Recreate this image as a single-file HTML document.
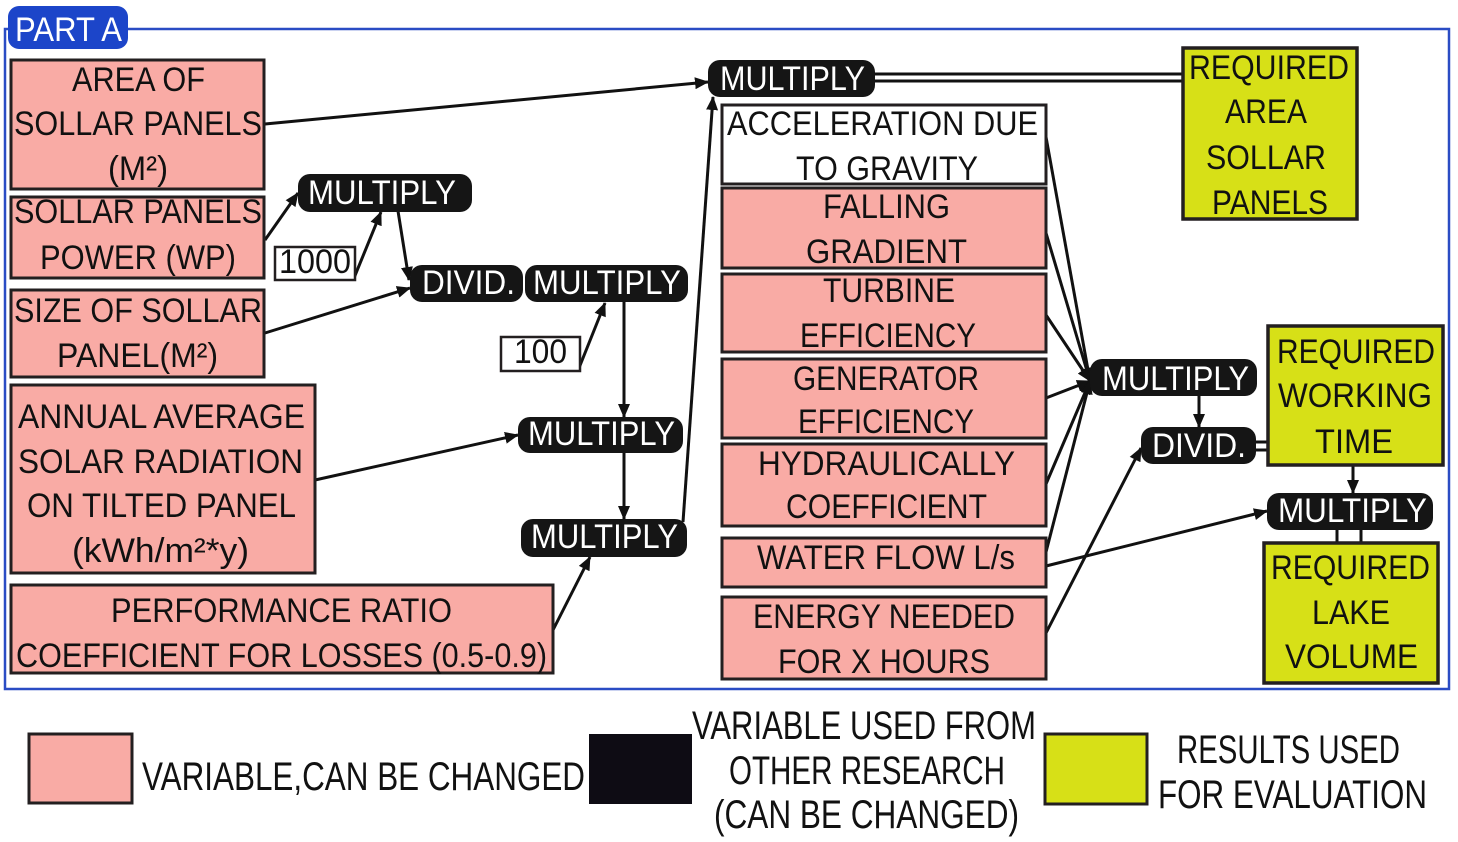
<!DOCTYPE html>
<html>
<head>
<meta charset="utf-8">
<style>
  html,body{margin:0;padding:0;background:#fff;}
  svg{display:block;}
  text{font-family:"Liberation Sans",sans-serif;}
</style>
</head>
<body>
<svg width="1458" height="842" viewBox="0 0 1458 842" xmlns="http://www.w3.org/2000/svg">
  <defs>
    <marker id="ah" markerUnits="userSpaceOnUse" markerWidth="14" markerHeight="12" refX="13" refY="6" orient="auto">
      <path d="M0,0 L14,6 L0,12 z" fill="#111"/>
    </marker>
  </defs>

  <!-- frame -->
  <rect x="5" y="29" width="1444" height="660" fill="none" stroke="#2a4cc4" stroke-width="2.5"/>
  <rect x="8" y="6" width="120" height="43" rx="11" fill="#1c45c9"/>
  <text x="15" y="41" font-size="34" fill="#fff" textLength="107" lengthAdjust="spacingAndGlyphs">PART A</text>

  <!-- connectors -->
  <g stroke="#111" stroke-width="3" fill="none">
    <line x1="265" y1="124" x2="708" y2="82" marker-end="url(#ah)"/>
    <line x1="875" y1="74" x2="1183" y2="74"/>
    <line x1="875" y1="81" x2="1183" y2="81"/>
    <line x1="265" y1="240" x2="298" y2="193" marker-end="url(#ah)"/>
    <line x1="354" y1="278" x2="381" y2="212" marker-end="url(#ah)"/>
    <line x1="398" y1="211" x2="409" y2="280" marker-end="url(#ah)"/>
    <line x1="265" y1="333" x2="410" y2="288" marker-end="url(#ah)"/>
    <line x1="579" y1="368" x2="605" y2="303" marker-end="url(#ah)"/>
    <line x1="624" y1="302" x2="624" y2="417" marker-end="url(#ah)"/>
    <line x1="624" y1="453" x2="624" y2="519" marker-end="url(#ah)"/>
    <line x1="315" y1="480" x2="518" y2="435" marker-end="url(#ah)"/>
    <line x1="553" y1="630" x2="590" y2="557" marker-end="url(#ah)"/>
    <line x1="683" y1="522" x2="713" y2="97" marker-end="url(#ah)"/>

    <line x1="1046" y1="137" x2="1090" y2="381" marker-end="url(#ah)"/>
    <line x1="1046" y1="233" x2="1090" y2="381" marker-end="url(#ah)"/>
    <line x1="1046" y1="315" x2="1090" y2="381" marker-end="url(#ah)"/>
    <line x1="1046" y1="398" x2="1090" y2="381" marker-end="url(#ah)"/>
    <line x1="1046" y1="484" x2="1090" y2="381" marker-end="url(#ah)"/>
    <line x1="1046" y1="552" x2="1090" y2="381" marker-end="url(#ah)"/>

    <line x1="1199" y1="396" x2="1199" y2="427" marker-end="url(#ah)"/>
    <line x1="1046" y1="633" x2="1141" y2="448" marker-end="url(#ah)"/>
    <line x1="1046" y1="566" x2="1267" y2="511" marker-end="url(#ah)"/>
    <line x1="1256" y1="442" x2="1268" y2="442"/>
    <line x1="1256" y1="450" x2="1268" y2="450"/>
    <line x1="1353" y1="466" x2="1353" y2="493" marker-end="url(#ah)"/>
    <line x1="1337" y1="530" x2="1337" y2="543"/>
    <line x1="1361" y1="530" x2="1361" y2="543"/>
  </g>

  <!-- left pink boxes -->
  <g fill="#f9aba5" stroke="#231f20" stroke-width="3">
    <rect x="11" y="60" width="253" height="129"/>
    <rect x="11" y="197" width="253" height="81"/>
    <rect x="11" y="290" width="253" height="87"/>
    <rect x="11" y="385" width="304" height="188"/>
    <rect x="11" y="585" width="542" height="88"/>
  </g>
  <g font-size="34" fill="#111" lengthAdjust="spacingAndGlyphs">
    <text x="72" y="91" textLength="133" lengthAdjust="spacingAndGlyphs">AREA OF</text>
    <text x="14" y="135" textLength="248" lengthAdjust="spacingAndGlyphs">SOLLAR PANELS</text>
    <text x="108" y="180" textLength="60" lengthAdjust="spacingAndGlyphs">(M²)</text>
    <text x="14" y="223" textLength="248" lengthAdjust="spacingAndGlyphs">SOLLAR PANELS</text>
    <text x="40" y="269" textLength="196" lengthAdjust="spacingAndGlyphs">POWER (WP)</text>
    <text x="14" y="322" textLength="248" lengthAdjust="spacingAndGlyphs">SIZE OF SOLLAR</text>
    <text x="57" y="367" textLength="161" lengthAdjust="spacingAndGlyphs">PANEL(M²)</text>
    <text x="18" y="428" textLength="287" lengthAdjust="spacingAndGlyphs">ANNUAL AVERAGE</text>
    <text x="18" y="473" textLength="285" lengthAdjust="spacingAndGlyphs">SOLAR RADIATION</text>
    <text x="27" y="517" textLength="269" lengthAdjust="spacingAndGlyphs">ON TILTED PANEL</text>
    <text x="72" y="562" textLength="177" lengthAdjust="spacingAndGlyphs">(kWh/m²*y)</text>
    <text x="111" y="622" textLength="341" lengthAdjust="spacingAndGlyphs">PERFORMANCE RATIO</text>
    <text x="16" y="667" textLength="531" lengthAdjust="spacingAndGlyphs">COEFFICIENT FOR LOSSES (0.5-0.9)</text>
  </g>

  <!-- constants -->
  <g fill="#fff" stroke="#231f20" stroke-width="2.5">
    <rect x="275" y="247" width="80" height="33"/>
    <rect x="501" y="337" width="79" height="34"/>
  </g>
  <text x="279" y="273" font-size="34" fill="#111" textLength="72" lengthAdjust="spacingAndGlyphs">1000</text>
  <text x="514" y="363" font-size="34" fill="#111" textLength="53" lengthAdjust="spacingAndGlyphs">100</text>

  <!-- black pills -->
  <g fill="#151515">
    <rect x="298" y="174" width="174" height="38" rx="12"/>
    <rect x="410" y="265" width="113" height="37" rx="12"/>
    <rect x="525" y="265" width="163" height="37" rx="12"/>
    <rect x="518" y="417" width="165" height="36" rx="12"/>
    <rect x="521" y="519" width="166" height="38" rx="12"/>
    <rect x="708" y="60" width="167" height="37" rx="12"/>
    <rect x="1090" y="359" width="167" height="37" rx="12"/>
    <rect x="1141" y="427" width="115" height="37" rx="12"/>
    <rect x="1267" y="493" width="166" height="37" rx="12"/>
  </g>
  <g font-size="34" fill="#fff">
    <text x="308" y="204" textLength="148" lengthAdjust="spacingAndGlyphs">MULTIPLY</text>
    <text x="422" y="294" textLength="93" lengthAdjust="spacingAndGlyphs">DIVID.</text>
    <text x="533" y="294" textLength="148" lengthAdjust="spacingAndGlyphs">MULTIPLY</text>
    <text x="528" y="445" textLength="147" lengthAdjust="spacingAndGlyphs">MULTIPLY</text>
    <text x="531" y="548" textLength="147" lengthAdjust="spacingAndGlyphs">MULTIPLY</text>
    <text x="720" y="90" textLength="145" lengthAdjust="spacingAndGlyphs">MULTIPLY</text>
    <text x="1102" y="390" textLength="147" lengthAdjust="spacingAndGlyphs">MULTIPLY</text>
    <text x="1152" y="457" textLength="94" lengthAdjust="spacingAndGlyphs">DIVID.</text>
    <text x="1278" y="522" textLength="149" lengthAdjust="spacingAndGlyphs">MULTIPLY</text>
  </g>

  <!-- middle column boxes -->
  <rect x="722" y="105" width="324" height="79" fill="#fff" stroke="#231f20" stroke-width="3"/>
  <g fill="#f9aba5" stroke="#231f20" stroke-width="3">
    <rect x="722" y="188" width="324" height="80"/>
    <rect x="722" y="274" width="324" height="78"/>
    <rect x="722" y="359" width="324" height="79"/>
    <rect x="722" y="444" width="324" height="82"/>
    <rect x="722" y="538" width="324" height="49"/>
    <rect x="722" y="597" width="324" height="82"/>
  </g>
  <g font-size="34" fill="#111">
    <text x="727" y="135" textLength="311" lengthAdjust="spacingAndGlyphs">ACCELERATION DUE</text>
    <text x="796" y="180" textLength="182" lengthAdjust="spacingAndGlyphs">TO GRAVITY</text>
    <text x="823" y="218" textLength="127" lengthAdjust="spacingAndGlyphs">FALLING</text>
    <text x="806" y="263" textLength="161" lengthAdjust="spacingAndGlyphs">GRADIENT</text>
    <text x="823" y="302" textLength="132" lengthAdjust="spacingAndGlyphs">TURBINE</text>
    <text x="800" y="347" textLength="176" lengthAdjust="spacingAndGlyphs">EFFICIENCY</text>
    <text x="793" y="390" textLength="186" lengthAdjust="spacingAndGlyphs">GENERATOR</text>
    <text x="798" y="433" textLength="176" lengthAdjust="spacingAndGlyphs">EFFICIENCY</text>
    <text x="758" y="475" textLength="257" lengthAdjust="spacingAndGlyphs">HYDRAULICALLY</text>
    <text x="786" y="518" textLength="201" lengthAdjust="spacingAndGlyphs">COEFFICIENT</text>
    <text x="757" y="569" textLength="258" lengthAdjust="spacingAndGlyphs">WATER FLOW L/s</text>
    <text x="753" y="628" textLength="262" lengthAdjust="spacingAndGlyphs">ENERGY NEEDED</text>
    <text x="778" y="673" textLength="212" lengthAdjust="spacingAndGlyphs">FOR X HOURS</text>
  </g>

  <!-- yellow result boxes -->
  <g fill="#d7e017" stroke="#231f20" stroke-width="3.5">
    <rect x="1183" y="48" width="174" height="171"/>
    <rect x="1268" y="326" width="175" height="139"/>
    <rect x="1264" y="543" width="174" height="140"/>
  </g>
  <g font-size="34" fill="#111">
    <text x="1189" y="79" textLength="160" lengthAdjust="spacingAndGlyphs">REQUIRED</text>
    <text x="1225" y="123" textLength="82" lengthAdjust="spacingAndGlyphs">AREA</text>
    <text x="1206" y="169" textLength="120" lengthAdjust="spacingAndGlyphs">SOLLAR</text>
    <text x="1212" y="214" textLength="116" lengthAdjust="spacingAndGlyphs">PANELS</text>
    <text x="1277" y="363" textLength="158" lengthAdjust="spacingAndGlyphs">REQUIRED</text>
    <text x="1278" y="407" textLength="154" lengthAdjust="spacingAndGlyphs">WORKING</text>
    <text x="1315" y="453" textLength="78" lengthAdjust="spacingAndGlyphs">TIME</text>
    <text x="1271" y="579" textLength="159" lengthAdjust="spacingAndGlyphs">REQUIRED</text>
    <text x="1312" y="624" textLength="78" lengthAdjust="spacingAndGlyphs">LAKE</text>
    <text x="1285" y="668" textLength="133" lengthAdjust="spacingAndGlyphs">VOLUME</text>
  </g>

  <!-- legend -->
  <rect x="29" y="734" width="103" height="69" fill="#f9aba5" stroke="#231f20" stroke-width="3"/>
  <rect x="589" y="734" width="103" height="70" fill="#0e0c14"/>
  <rect x="1045" y="734" width="102" height="70" fill="#d7e017" stroke="#231f20" stroke-width="3"/>
  <g font-size="40" fill="#111">
    <text x="142" y="790" textLength="443" lengthAdjust="spacingAndGlyphs">VARIABLE,CAN BE CHANGED</text>
    <text x="692" y="739" textLength="344" lengthAdjust="spacingAndGlyphs">VARIABLE USED FROM</text>
    <text x="729" y="784" textLength="276" lengthAdjust="spacingAndGlyphs">OTHER RESEARCH</text>
    <text x="714" y="828" textLength="305" lengthAdjust="spacingAndGlyphs">(CAN BE CHANGED)</text>
    <text x="1177" y="763" textLength="223" lengthAdjust="spacingAndGlyphs">RESULTS USED</text>
    <text x="1158" y="808" textLength="269" lengthAdjust="spacingAndGlyphs">FOR EVALUATION</text>
  </g>
</svg>
</body>
</html>
